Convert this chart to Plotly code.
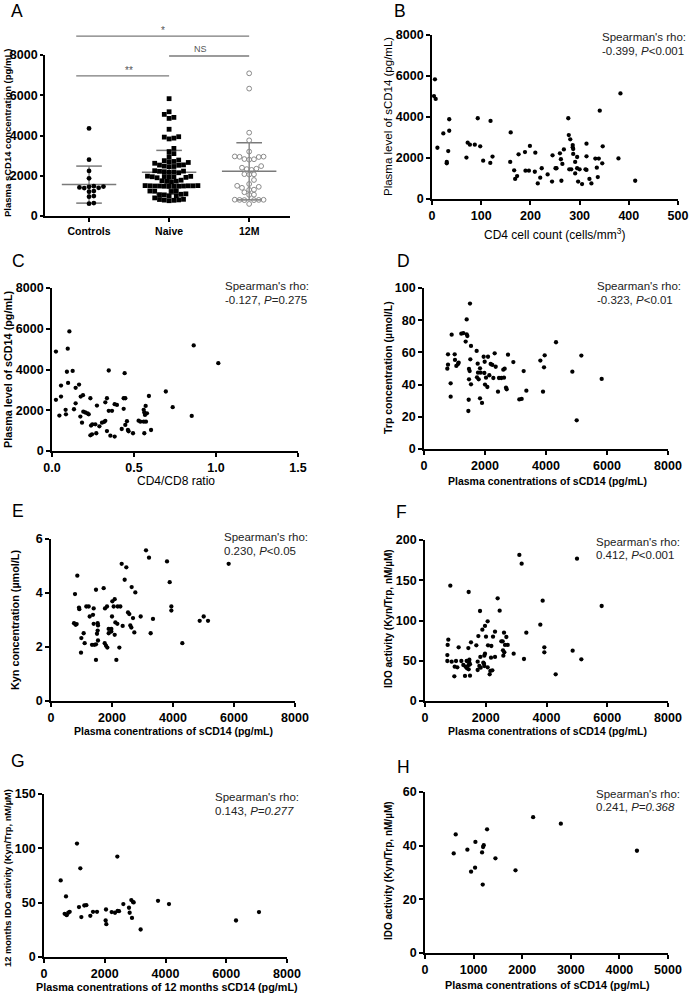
import plotly.graph_objects as go

W, H = 691, 996
FONT = "Liberation Sans"

# ---------------- data ----------------
# Panel A: dot plot
groups = ["Controls", "Naive", "12M"]
a_controls = [4350, 2800, 2240, 1870, 1480, 1450, 1420, 1400, 1460, 1390, 1240, 1210, 960, 990, 640, 610]
a_naive = [5830, 5180, 5050, 4900, 4850, 4310, 3940, 3870, 3830, 3920, 3360, 3200, 3100, 2950,
           2780, 2700, 2660, 2710, 2620, 2750,
           2530, 2450, 2520, 2460, 2480, 2540,
           2250, 2200, 2230, 2170, 2150, 2220, 2190,
           1980, 1950, 1930, 1920, 1970, 1900, 1950, 1960,
           1750, 1720, 1700, 1780, 1730,
           1500, 1490, 1480, 1510, 1470, 1490, 1500, 1480, 1510, 1490, 1470, 1500,
           1240, 1230, 1250, 1220,
           1050, 1000, 1100, 1010, 1060, 1080,
           900, 830, 800, 780, 760, 790, 820]
a_12m = [7090, 6330, 4140, 3760, 3200, 2960, 2950, 2940, 2930, 2830, 2800, 2820, 2480, 2400, 2350,
         2330, 2290, 2070, 2060, 2080, 1790, 1590, 1500, 1450, 1400, 1310, 1300, 1180, 1060, 1050,
         800, 790, 810, 800, 790, 805, 600]
a_means = [1560, 2170, 2220]
a_sds = [920, 1090, 1420]
sig_labels = ["*", "NS", "**"]
sig_pairs = [(-0.16, 2.0), (1.0, 2.0), (-0.16, 1.0)]
sig_heights = [8940, 7950, 6960]

# Panel B
b_cd4 = [6, 4, 7.5, 11, 23, 35, 35, 33, 30, 30, 70, 72.5, 77, 87, 93, 98, 104, 119, 123, 118.5,
         160, 159, 167, 169, 173, 176, 189, 199, 190, 197, 210, 209, 215, 220, 223, 235, 245, 244,
         251, 253, 260, 262, 265, 263, 268, 277, 278, 281, 286, 286, 287, 287, 279, 283, 291, 295,
         291, 295, 300, 297, 305, 314, 314, 312, 314, 320, 324, 332, 339, 335, 346, 337, 341, 347,
         379, 383, 413]
b_scd14 = [5840, 5020, 4880, 2500, 3200, 3890, 3330, 2340, 1810, 1740, 2020, 2750, 2650, 2650, 3940,
           2570, 1870, 3810, 2070, 1760, 3250, 1810, 1400, 980, 1120, 2180, 2290, 2590, 1380, 1380,
           2260, 1330, 760, 1040, 1500, 1200, 2130, 850, 1500, 1500, 2230, 1940, 1710, 890, 2420,
           3940, 3120, 2910, 2630, 2520, 2440, 2200, 1450, 1450, 1810, 2050, 1250, 1500, 1450, 850,
           730, 2700, 2080, 1450, 1420, 980, 760, 1970, 1970, 1530, 1740, 1070, 4310, 2570, 1980,
           5150, 890]

# Panel C
c_ratio = [0.024, 0.024, 0.045, 0.055, 0.055, 0.083, 0.085, 0.096, 0.106, 0.091, 0.098, 0.126, 0.134,
           0.144, 0.144, 0.165, 0.175, 0.189, 0.173, 0.191, 0.183, 0.203, 0.217, 0.224, 0.234, 0.238,
           0.246, 0.234, 0.244, 0.264, 0.270, 0.274, 0.289, 0.305, 0.319, 0.325, 0.325, 0.335, 0.335,
           0.346, 0.346, 0.366, 0.356, 0.382, 0.382, 0.396, 0.425, 0.437, 0.437, 0.447, 0.443, 0.447,
           0.457, 0.463, 0.467, 0.494, 0.528, 0.539, 0.559, 0.573, 0.559, 0.563, 0.571, 0.567, 0.579,
           0.563, 0.591, 0.604, 0.694, 0.736, 0.852, 0.864, 1.014]
c_scd14 = [4880, 2510, 1740, 3210, 2670, 2020, 1800, 5020, 5870, 3890, 3340, 3930, 2050, 2340, 3100,
           3260, 2670, 2740, 1690, 1930, 1390, 1890, 1840, 1800, 2590, 1250, 1310, 770, 820, 1310,
           870, 2230, 1210, 1390, 1430, 1480, 2390, 2590, 980, 3950, 1970, 1970, 750, 710, 2300,
           2260, 1080, 2070, 2590, 2590, 3820, 1280, 1460, 1030, 970, 870, 1490, 1440, 1440, 1440,
           2020, 1890, 2210, 1770, 1850, 870, 2700, 1030, 2920, 2150, 1720, 5180, 4310]

# Panel D
d_scd14 = [1508, 1399, 907, 1224, 1290, 1399, 1421, 1366, 1541, 1727, 787, 1006, 787, 765, 1016, 1060,
           1115, 1137, 1519, 1475, 1497, 1760, 1956, 2099, 2317, 1989, 1836, 1771, 1858, 1978, 2186,
           2241, 2350, 1738, 1793, 2033, 2142, 2273, 2459, 2536, 2623, 2601, 2645, 2754, 2929, 874,
           1475, 1541, 2000, 2077, 2426, 2689, 2711, 3268, 3356, 3126, 3202, 874, 1465, 1836, 1902,
           1454, 3815, 3957, 3935, 3902, 4328, 4864, 5159, 5006, 5826]
d_trp = [90.3, 80.5, 71.0, 71.6, 72.0, 71.2, 70.2, 66.7, 64.0, 60.9, 58.8, 58.8, 52.4, 49.9, 55.3, 51.6,
         52.8, 53.6, 55.7, 49.7, 48.4, 53.0, 57.3, 57.3, 59.4, 54.2, 50.1, 47.4, 47.4, 47.2, 52.8,
         52.2, 51.1, 44.5, 43.3, 44.3, 45.8, 44.1, 44.1, 44.1, 44.3, 49.3, 49.9, 58.6, 54.0, 40.8,
         43.3, 40.2, 40.0, 38.5, 35.6, 38.1, 37.1, 48.4, 36.2, 30.8, 31.1, 32.5, 30.6, 31.5, 28.6,
         23.6, 54.9, 58.2, 50.7, 35.6, 66.3, 48.0, 58.0, 17.8, 43.5]

# Panel E
e_scd14 = [863, 787, 842, 754, 809, 918, 929, 995, 1071, 984, 1104, 1158, 1235, 1268, 1377, 1399, 1344,
           1421, 1399, 1475, 1530, 1541, 1475, 1475, 1508, 1530, 1541, 1727, 1770, 1836, 1760, 1803,
           1847, 1891, 1978, 1891, 1978, 2000, 2011, 2055, 2088, 2110, 2175, 2088, 2142, 2186, 2273,
           2241, 2317, 2350, 2415, 2470, 2525, 2568, 2601, 2634, 2645, 2689, 2732, 2765, 2940, 3115,
           3213, 3268, 3344, 3804, 3891, 3946, 3946, 4306, 4875, 5006, 5148, 5825]
e_kyn = [4.64, 3.96, 2.85, 2.88, 2.82, 3.46, 3.40, 2.33, 2.51, 1.79, 2.14, 3.50, 3.50, 3.13, 3.19, 3.43,
         2.08, 2.08, 2.86, 4.12, 2.88, 2.80, 2.10, 1.52, 2.49, 2.61, 2.24, 4.18, 3.43, 3.50, 2.14, 2.05,
         1.98, 2.67, 2.67, 2.51, 2.57, 3.13, 3.69, 3.50, 3.77, 2.91, 2.86, 2.45, 1.52, 3.50, 3.50, 1.98,
         5.08, 2.78, 4.49, 4.95, 3.28, 3.22, 2.80, 2.72, 4.22, 3.07, 2.54, 4.02, 3.13, 5.58, 5.31, 2.51,
         3.04, 5.17, 4.40, 3.50, 3.35, 2.14, 2.97, 3.13, 2.97, 5.08]

# Panel F
f_scd14 = [3106, 3182, 5004, 834, 1438, 2392, 3874, 5816, 1811, 2458, 3797, 2063, 1975, 1888, 3336,
           2305, 2601, 2678, 1756, 2008, 2239, 768, 746, 1514, 2074, 2184, 2513, 2557, 2722, 1108,
           1427, 1690, 1822, 1975, 1953, 2305, 2568, 2612, 2634, 2919, 2579, 3929, 3929, 3259, 4861,
           5147, 4302, 735, 735, 878, 1021, 1196, 1372, 1460, 1460, 977, 1064, 1262, 1339, 1438, 1481,
           1383, 1438, 1734, 1789, 1920, 1953, 1942, 2173, 2063, 2151, 1734, 1833, 2217, 2129, 966,
           1317, 1481]
f_ido = [181.4, 170.6, 176.8, 143.3, 135.4, 127.5, 124.6, 118.0, 111.8, 112.2, 94.8, 99.0, 93.2, 88.6,
         84.9, 86.1, 84.9, 79.5, 80.7, 79.9, 79.9, 76.2, 69.6, 72.9, 69.2, 68.3, 74.1, 74.1, 69.6, 66.7,
         65.8, 69.2, 54.7, 58.8, 56.3, 54.7, 62.9, 60.5, 69.6, 58.8, 56.3, 66.7, 60.5, 52.2, 62.5, 51.8,
         33.1, 57.1, 49.7, 48.9, 49.7, 49.7, 49.7, 51.3, 47.6, 42.7, 41.8, 44.7, 42.7, 44.7, 45.5, 40.6,
         39.3, 48.9, 43.5, 47.6, 43.5, 46.4, 53.8, 41.8, 37.3, 38.5, 41.4, 38.1, 33.1, 30.6, 31.1, 31.5]

# Panel G
g_scd14_12m = [549, 1086, 1196, 724, 680, 746, 801, 845, 1152, 1229, 1328, 1394, 1525, 1613, 1745, 2041,
               2030, 2052, 2228, 2337, 2425, 2414, 2469, 2612, 2798, 2820, 2875, 2930, 2897, 2952, 3182,
               3753, 4115, 6321, 7078]
g_ido_12m = [70.5, 104.4, 81.6, 55.7, 39.7, 38.5, 40.7, 41.6, 45.9, 36.7, 47.4, 47.7, 37.9, 41.6, 41.6,
             43.7, 33.6, 30.2, 41.3, 40.7, 42.5, 92.4, 42.2, 48.7, 45.3, 40.7, 52.4, 50.5, 36.0, 50.2,
             25.3, 51.7, 48.7, 33.6, 41.3]

# Panel H
h_scd14 = [591, 632, 872, 1037, 948, 1030, 1188, 1277, 1174, 1195, 1209, 1449, 1862, 2225, 2795, 4361]
h_ido = [37.1, 44.2, 38.5, 41.4, 30.3, 31.8, 25.5, 46.1, 37.5, 39.5, 40.2, 35.3, 30.8, 50.6, 48.2, 38.1]

spearman = {
    "B": ("-0.399, ", "<i>P</i>&lt;0.001"),
    "C": ("-0.127, ", "<i>P</i>=0.275"),
    "D": ("-0.323, ", "<i>P</i>&lt;0.01"),
    "E": ("0.230, ", "<i>P</i>&lt;0.05"),
    "F": ("0.412, ", "<i>P</i>&lt;0.001"),
    "G": ("0.143, ", "<i>P=0.277</i>"),
    "H": ("0.241, ", "<i>P=0.368</i>"),
}

# ---------------- layout helpers ----------------
def px_x(x):
    return x / W

def px_y(y):
    return 1 - y / H

# panel: (x px range, y px range(top,bottom), xrange, yrange, xticks, yticks)
panels = {
    "A": ([45, 290], [55, 216], [-0.55, 2.51], [0, 8000], [0, 1, 2], [0, 2000, 4000, 6000, 8000]),
    "B": ([432, 678], [35, 199], [0, 500], [0, 8000], [0, 100, 200, 300, 400, 500], [0, 2000, 4000, 6000, 8000]),
    "C": ([52, 298], [288, 451], [0, 1.5], [0, 8000], [0, 0.5, 1.0, 1.5], [0, 2000, 4000, 6000, 8000]),
    "D": ([424, 668], [288, 449], [0, 8000], [0, 100], [0, 2000, 4000, 6000, 8000], [0, 20, 40, 60, 80, 100]),
    "E": ([51, 295], [539, 701], [0, 8000], [0, 6], [0, 2000, 4000, 6000, 8000], [0, 2, 4, 6]),
    "F": ([425, 668], [540, 701], [0, 8000], [0, 200], [0, 2000, 4000, 6000, 8000], [0, 50, 100, 150, 200]),
    "G": ([44, 287], [794, 957], [0, 8000], [0, 150], [0, 2000, 4000, 6000, 8000], [0, 50, 100, 150]),
    "H": ([425, 668], [792, 953], [0, 5000], [0, 60], [0, 1000, 2000, 3000, 4000, 5000], [0, 20, 40, 60]),
}
order = ["A", "B", "C", "D", "E", "F", "G", "H"]

fig = go.Figure()
layout = dict(template="none", width=W, height=H,
              margin=dict(l=0, r=0, t=0, b=0, pad=0, autoexpand=False),
              paper_bgcolor="white", plot_bgcolor="white", showlegend=False,
              font=dict(family=FONT, color="black"))
annotations = []
shapes = []

for i, key in enumerate(order, start=1):
    xp, yp, xr, yr, xt, yt = panels[key]
    sfx = "" if i == 1 else str(i)
    ax_common = dict(showline=True, linecolor="black", linewidth=1.8, ticks="outside",
                     ticklen=4, tickwidth=1.8, tickcolor="black", showgrid=False, zeroline=False,
                     fixedrange=True, automargin=False, mirror=False)
    tfs = 12.5
    if key == "A":
        xticktext = groups
    elif key == "C":
        xticktext = ["%.1f" % v for v in xt]
    else:
        xticktext = [str(v) for v in xt]
    layout["xaxis" + sfx] = dict(ax_common, domain=[px_x(xp[0]), px_x(xp[1])], range=xr,
                                 anchor="y" + sfx, tickmode="array", tickvals=xt, ticktext=xticktext,
                                 tickfont=dict(size=10.5 if key == "A" else tfs, family=FONT,
                                               color="black", weight="bold"))
    layout["yaxis" + sfx] = dict(ax_common, domain=[px_y(yp[1]), px_y(yp[0])], range=yr,
                                 anchor="x" + sfx, tickmode="array", tickvals=yt,
                                 ticktext=[str(v) for v in yt],
                                 ticklen=3 if key == "A" else 4,
                                 tickfont=dict(size=12.5, family=FONT, color="black", weight="bold"))

# ---------------- panel A: beeswarm ----------------
def swarm(vals, ppu_y, d):
    """Compute horizontal pixel offsets so that markers of diameter d don't overlap."""
    idx = sorted(range(len(vals)), key=lambda k: vals[k])
    placed = []
    offs = [0.0] * len(vals)
    cands = [0.0]
    for j in range(1, 60):
        cands += [j * d * 0.5, -j * d * 0.5]
    for k in idx:
        y = vals[k] * ppu_y
        for c in cands:
            if all((c - px) ** 2 + (y - py) ** 2 >= d * d * 0.98 for px, py in placed):
                break
        placed.append((c, y))
        offs[k] = c
    return offs

xpA, ypA, xrA, yrA = panels["A"][0], panels["A"][1], panels["A"][2], panels["A"][3]
ppu_y = (ypA[1] - ypA[0]) / (yrA[1] - yrA[0])
ppu_x = (xpA[1] - xpA[0]) / (xrA[1] - xrA[0])

# mean & SD lines
for gi, (m, s) in enumerate(zip(a_means, a_sds)):
    lc = "#7a7a7a"
    fig.add_trace(go.Scatter(x=[gi, gi], y=[m - s, m + s], mode="lines",
                             line=dict(color=lc, width=1.3), xaxis="x", yaxis="y", hoverinfo="skip"))
    for yy, hw in [(m - s, 0.16), (m + s, 0.16), (m, 0.34)]:
        fig.add_trace(go.Scatter(x=[gi - hw, gi + hw], y=[yy, yy], mode="lines",
                                 line=dict(color=lc, width=1.5), xaxis="x", yaxis="y", hoverinfo="skip"))

for gi, (vals, sym, col) in enumerate([(a_controls, "circle", "black"),
                                        (a_naive, "square", "black"),
                                        (a_12m, "circle-open", "#8a8a8a")]):
    offs = swarm(vals, ppu_y, 4.8)
    fig.add_trace(go.Scatter(x=[gi + o / ppu_x for o in offs], y=vals, mode="markers",
                             marker=dict(symbol=sym, size=4.8, color=col,
                                         line=dict(width=1 if sym == "circle-open" else 0, color=col)),
                             xaxis="x", yaxis="y", cliponaxis=False, hoverinfo="skip"))

# significance bars (domain references so they may sit above the axis range)
def xdom(v):
    return (v - xrA[0]) / (xrA[1] - xrA[0])

for lab, (x0, x1), hgt in zip(sig_labels, sig_pairs, sig_heights):
    shapes.append(dict(type="line", xref="x domain", yref="y domain",
                       x0=xdom(x0), x1=xdom(x1), y0=hgt / yrA[1], y1=hgt / yrA[1],
                       line=dict(color="#7a7a7a", width=1.3)))
    annotations.append(dict(x=xdom((x0 + x1) / 2), y=hgt / yrA[1], xref="x domain", yref="y domain",
                            text=lab, showarrow=False, yanchor="bottom",
                            yshift=-2 if lab != "NS" else 0,
                            font=dict(size=10 if lab != "NS" else 9, color="#555555", family=FONT)))

# ---------------- scatter panels ----------------
scatter_data = {
    "B": (b_cd4, b_scd14), "C": (c_ratio, c_scd14), "D": (d_scd14, d_trp), "E": (e_scd14, e_kyn),
    "F": (f_scd14, f_ido), "G": (g_scd14_12m, g_ido_12m), "H": (h_scd14, h_ido),
}
for i, key in enumerate(order, start=1):
    if key == "A":
        continue
    xs, ys = scatter_data[key]
    fig.add_trace(go.Scatter(x=xs, y=ys, mode="markers",
                             marker=dict(symbol="circle", size=4.3, color="black", line=dict(width=0)),
                             xaxis="x" + str(i), yaxis="y" + str(i), cliponaxis=False, hoverinfo="skip"))

# ---------------- text annotations (pixel-placed) ----------------
def ann(text, x, y, size, bold=False, angle=0, xanchor="center", color="black"):
    annotations.append(dict(text=text, x=px_x(x), y=px_y(y), xref="paper", yref="paper",
                            showarrow=False, textangle=angle, xanchor=xanchor, yanchor="middle",
                            font=dict(size=size, family=FONT, color=color,
                                      weight="bold" if bold else "normal")))

# panel letters
for lab, (x, y) in {"A": (17, 11), "B": (400, 11), "C": (18, 261), "D": (403, 261),
                    "E": (18, 511), "F": (402, 512), "G": (18, 761), "H": (403, 767)}.items():
    ann(lab, x, y, 17.5)

# y titles
ann("Plasma sCD14 concentration (pg/mL)", 7, 133, 9.5, bold=True, angle=-90)
ann("Plasma level of sCD14 (pg/mL)", 388, 117, 11.5, angle=-90)
ann("Plasma level of sCD14 (pg/mL)", 8, 369, 10.8, bold=True, angle=-90)
ann("Trp concentration (µmol/L)", 388, 368, 10.5, bold=True, angle=-90)
ann("Kyn concentration (µmol/L)", 15, 620, 10.8, bold=True, angle=-90)
ann("IDO activity (Kyn/Trp, nM/µM)", 388, 619, 10, bold=True, angle=-90)
ann("12 months IDO activity (Kyn/Trp, nM/µM)", 8, 878, 9.3, bold=True, angle=-90)
ann("IDO activity (Kyn/Trp, nM/µM)", 388, 871, 10, bold=True, angle=-90)

# x titles
ann("CD4 cell count (cells/mm<sup>3</sup>)", 554, 234, 12)
ann("CD4/CD8 ratio", 176, 481, 12)
ann("Plasma conentrations of sCD14 (pg/mL)", 547, 481, 10.5, bold=True)
ann("Plasma conentrations of sCD14 (pg/mL)", 173, 731, 10.5, bold=True)
ann("Plasma conentrations of sCD14 (pg/mL)", 547, 731, 10.5, bold=True)
ann("Plasma conentrations of 12 months sCD14 (pg/mL)", 167, 987, 10.8, bold=True)
ann("Plasma conentrations of sCD14 (pg/mL)", 547, 985, 10.8, bold=True)

# Spearman texts
sp_pos = {"B": (600, 37, 51), "C": (223, 286, 300), "D": (595, 286, 300), "E": (222, 537, 551),
          "F": (594, 542, 555), "G": (213, 797, 811), "H": (594, 794, 807)}
for key, (x, y1, y2) in sp_pos.items():
    rho, p = spearman[key]
    ann("Spearman's rho:", x, y1, 11.5, xanchor="left", color="#222222")
    ann(rho + p, x, y2, 11.5, xanchor="left", color="#222222")

layout["annotations"] = annotations
layout["shapes"] = shapes
fig.update_layout(**layout)
fig.write_html("out.html", config={"displayModeBar": False},
               post_script="document.body.style.margin='0';document.body.style.padding='0';")
